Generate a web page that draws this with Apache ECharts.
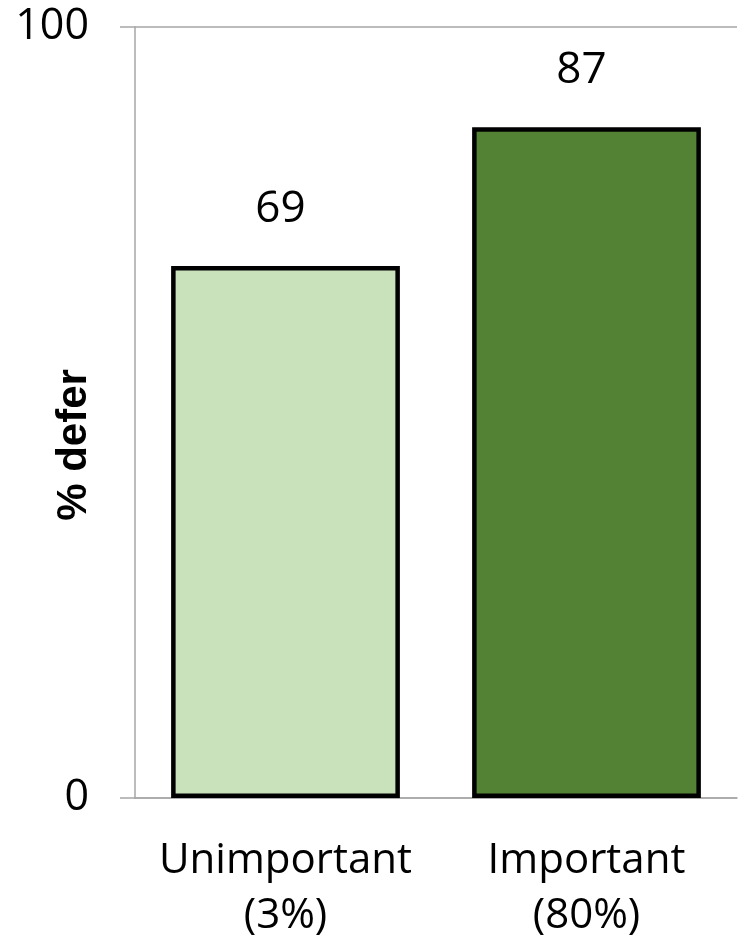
<!DOCTYPE html>
<html>
<head>
<meta charset="utf-8">
<script src="https://cdn.jsdelivr.net/npm/echarts@6/dist/echarts.min.js"></script>
<style>
  html, body { margin: 0; padding: 0; background: #ffffff; }
  #chart { width: 738px; height: 944px; }
</style>
</head>
<body>
<div id="chart"></div>
<script>
const categories = ['Unimportant\n(3%)', 'Important\n(80%)'];
const values = [69, 87];
const barColors = ['#cae2bc', '#548235'];
const yTicks = [0, 100];
const yAxisTitle = '% defer';

const chart = echarts.init(document.getElementById('chart'), null, { renderer: 'canvas' });
const font = '"Open Sans", "Noto Sans", sans-serif';

chart.setOption({
  animation: false,
  backgroundColor: '#ffffff',
  grid: { left: 135, right: 1, top: 27, bottom: 142.5, containLabel: false },
  xAxis: {
    type: 'category',
    data: categories,
    axisLine: { show: true, lineStyle: { color: '#a6a6a6', width: 1.5 } },
    axisTick: { show: false },
    axisLabel: {
      interval: 0, hideOverlap: false,
      fontFamily: font, fontSize: 42, color: '#000', lineHeight: 55, margin: 36
    },
    z: 1
  },
  yAxis: {
    type: 'value',
    min: yTicks[0],
    max: yTicks[yTicks.length - 1],
    interval: yTicks[1] - yTicks[0],
    axisLine: { show: true, lineStyle: { color: '#a6a6a6', width: 1.5 } },
    axisTick: { show: true, inside: false, length: 15, lineStyle: { color: '#a6a6a6', width: 1.5 } },
    splitLine: { show: true, lineStyle: { color: '#a6a6a6', width: 1.5 } },
    axisLabel: { fontFamily: font, fontSize: 43, color: '#000', margin: 46 }
  },
  graphic: [{
    type: 'text',
    x: 74, y: 445,
    rotation: Math.PI / 2,
    style: {
      text: yAxisTitle,
      fontFamily: '"Liberation Sans", Arial, sans-serif',
      fontWeight: 'bold',
      fontSize: 42,
      fill: '#000',
      align: 'center',
      verticalAlign: 'middle'
    }
  }],
  series: [{
    type: 'bar',
    data: values.map((v, i) => ({ value: v, itemStyle: { color: barColors[i] } })),
    barCategoryGap: '24%',
    itemStyle: { borderColor: '#000', borderWidth: 4.5 },
    label: {
      show: true, position: 'top', distance: 35, offset: [-5, 0],
      fontFamily: font, fontSize: 44, color: '#000'
    }
  }]
});
</script>
</body>
</html>
